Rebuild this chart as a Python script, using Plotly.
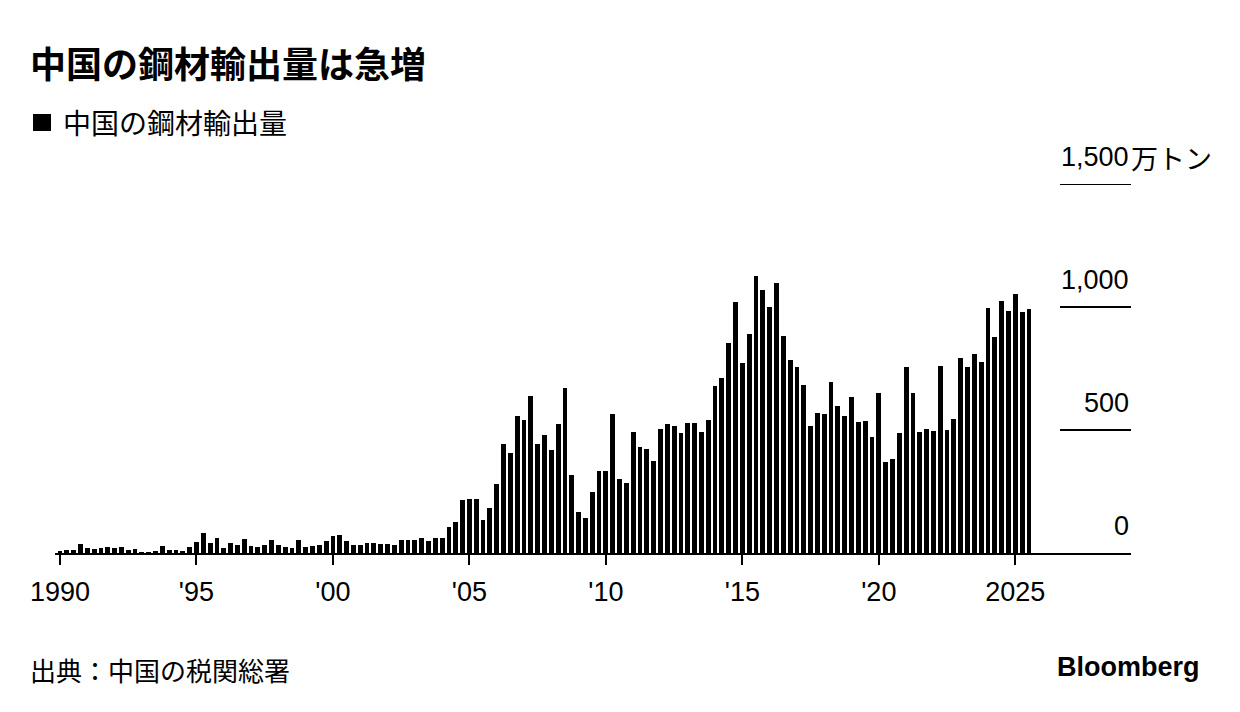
import plotly.graph_objects as go

# ---- data: China's steel exports, quarterly, 10,000 tonnes (万トン) ----
start_year = 1990
quarters_per_year = 4
exports = [
    5, 11, 11, 35, 19, 16, 19, 24, 19, 23, 11, 15, 4, 4, 8, 27, 11, 11, 8, 26,     # 1990-1994
    45, 80, 42, 60, 22, 39, 31, 58, 30, 23, 33, 52, 31, 24, 19, 54, 23, 27, 33, 50,  # 1995-1999
    68, 75, 50, 34, 34, 39, 39, 37, 37, 33, 53, 54, 54, 62, 48, 62, 62, 105, 127, 215,  # 2000-2004
    221, 221, 136, 181, 281, 444, 407, 557, 540, 638, 445, 479, 418, 524, 669, 316, 167, 143, 247, 335,  # 2005-2009
    334, 565, 301, 285, 492, 429, 421, 373, 504, 524, 516, 486, 530, 530, 493, 539, 678, 710, 854, 1020,  # 2010-2014
    771, 891, 1128, 1069, 1001, 1099, 883, 784, 758, 683, 516, 569, 566, 695, 598, 558, 635, 532, 535, 470,  # 2015-2019
    650, 371, 384, 486, 756, 649, 493, 504, 496, 760, 501, 543, 794, 756, 810, 777, 997, 880, 1024, 982,  # 2020-2024
    1054, 978, 992,  # 2025 Q1-Q3
]
periods = [start_year + i / quarters_per_year for i in range(len(exports))]

x_tick_vals = [1990, 1995, 2000, 2005, 2010, 2015, 2020, 2025]
x_tick_text = ["1990", "'95", "'00", "'05", "'10", "'15", "'20", "2025"]
y_tick_vals = [0, 500, 1000, 1500]
y_unit = "万トン"

title_text = "中国の鋼材輸出量は急増"
series_name = "中国の鋼材輸出量"
source_text = "出典：中国の税関総署"
brand_text = "Bloomberg"

# ---- layout geometry (screen pixels; page body has an 8px margin) ----
OFF = 8
W, H = 1240 - OFF, 712 - OFF
PL, PR = 55, 1131          # plot left / right on screen
PT, PB = 184, 553          # plot top / bottom on screen
X_RANGE = [1989.817, 2029.24]
Y_RANGE = [0, 1500]


def px_x(px):
    return (px - PL) / (PR - PL)


def px_y(py):
    return (PB - py) / (PB - PT)


NUM_FONT = "Liberation Sans, Arial, Noto Sans CJK JP, sans-serif"
JP_FONT = "Noto Sans CJK JP, Liberation Sans, sans-serif"

fig = go.Figure()
fig.add_trace(go.Bar(
    x=periods, y=exports, name=series_name,
    width=0.176, marker=dict(color="#000000", line=dict(width=0)),
    showlegend=False, hoverinfo="x+y",
))

annotations = []
shapes = []

# y labels + short gridlines on the right
for v in y_tick_vals:
    annotations.append(dict(
        x=1, xref="paper", y=v, yref="y", text=f"{v:,}", showarrow=False,
        xanchor="right", yanchor="middle", yshift=27,
        font=dict(family=NUM_FONT, size=27, color="#000000"),
    ))
    if v > 0:
        shapes.append(dict(
            type="line", xref="paper", yref="y", x0=px_x(1060), x1=1, y0=v, y1=v,
            line=dict(color="#000000", width=2),
        ))
annotations.append(dict(
    x=1, xref="paper", y=y_tick_vals[-1], yref="y", text=y_unit, showarrow=False,
    xanchor="left", yanchor="middle", yshift=27, xshift=-2,
    font=dict(family=JP_FONT, size=27, color="#000000"),
))

# title
annotations.append(dict(
    x=px_x(28), xref="paper", y=px_y(62), yref="paper", text=f"<b>{title_text}</b>",
    showarrow=False, xanchor="left", yanchor="middle",
    font=dict(family=JP_FONT, size=36, color="#000000"),
))
# legend square + text
shapes.append(dict(
    type="rect", xref="paper", yref="paper",
    x0=px_x(33), x1=px_x(51), y0=px_y(131), y1=px_y(114),
    fillcolor="#000000", line=dict(width=0),
))
annotations.append(dict(
    x=px_x(61), xref="paper", y=px_y(122), yref="paper", text=series_name,
    showarrow=False, xanchor="left", yanchor="middle",
    font=dict(family=JP_FONT, size=28, color="#000000"),
))
# footer
annotations.append(dict(
    x=px_x(28), xref="paper", y=px_y(669), yref="paper", text=source_text,
    showarrow=False, xanchor="left", yanchor="middle",
    font=dict(family=JP_FONT, size=26, color="#000000"),
))
annotations.append(dict(
    x=px_x(1202), xref="paper", y=px_y(667), yref="paper", text=f"<b>{brand_text}</b>",
    showarrow=False, xanchor="right", yanchor="middle",
    font=dict(family=NUM_FONT, size=27, color="#000000"),
))

fig.update_layout(
    width=W, height=H,
    margin=dict(l=PL - OFF, r=W - (PR - OFF), t=PT - OFF, b=H - (PB - OFF), pad=0),
    paper_bgcolor="#ffffff", plot_bgcolor="#ffffff",
    bargap=0, showlegend=False,
    annotations=annotations, shapes=shapes,
    xaxis=dict(
        range=X_RANGE, tickmode="array", tickvals=x_tick_vals, ticktext=x_tick_text,
        showgrid=False, zeroline=False, showline=True, linecolor="#000000", linewidth=2,
        ticks="outside", ticklen=10, tickwidth=2, tickcolor="#000000",
        ticklabelstandoff=4,
        tickfont=dict(family=NUM_FONT, size=27, color="#000000"),
        fixedrange=True,
    ),
    yaxis=dict(
        range=Y_RANGE, showgrid=False, zeroline=False, showline=False,
        showticklabels=False, ticks="", fixedrange=True,
    ),
)

fig.write_html("out.html")
